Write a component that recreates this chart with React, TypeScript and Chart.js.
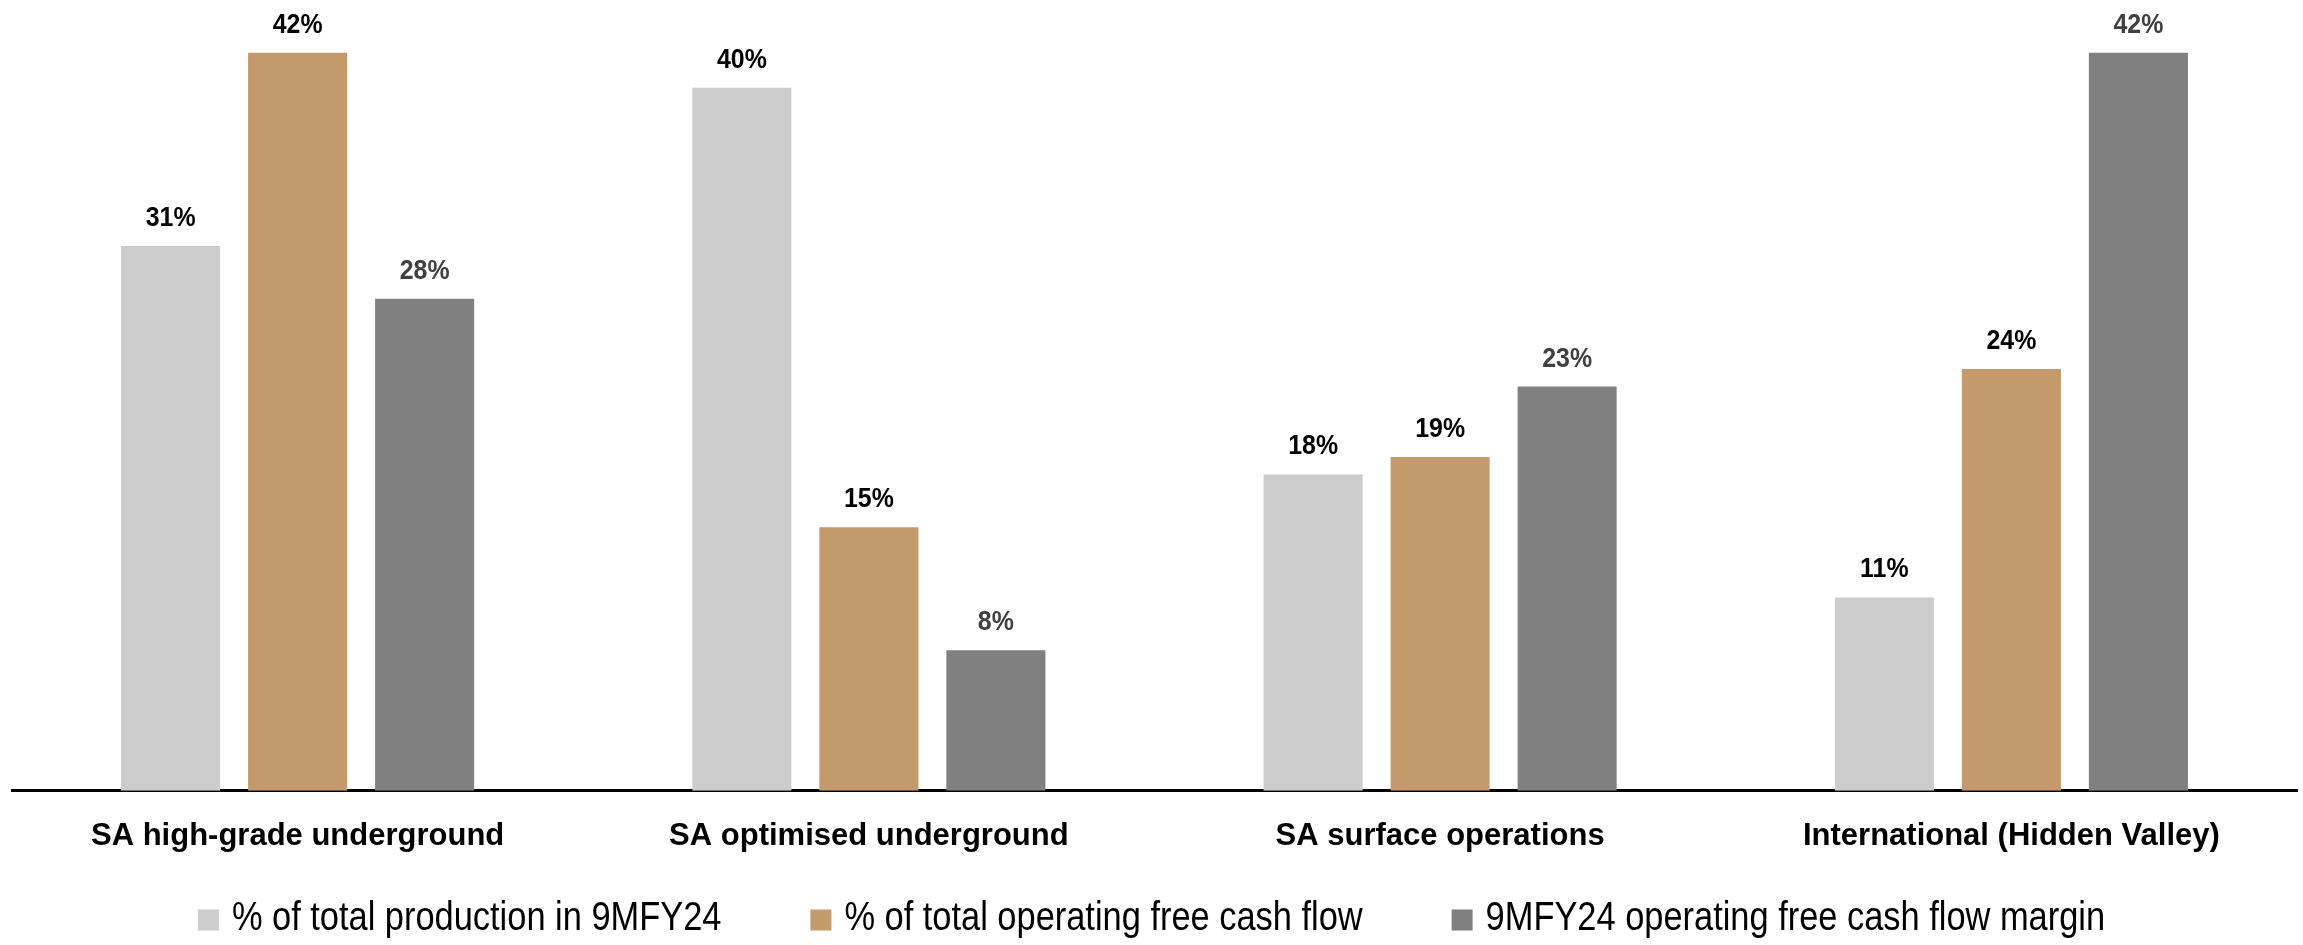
import React, { useEffect, useRef } from "react";
import { Chart, registerables } from "chart.js";

Chart.register(...registerables);

const categories = [
  "SA high-grade underground",
  "SA optimised underground",
  "SA surface operations",
  "International (Hidden Valley)",
];
const seriesNames = [
  "% of total production in 9MFY24",
  "% of total operating free cash flow",
  "9MFY24 operating free cash flow margin",
];
const productionShare = [31, 40, 18, 11];
const cashFlowShare = [42, 15, 19, 24];
const cashFlowMargin = [28, 8, 23, 42];
const seriesValues = [productionShare, cashFlowShare, cashFlowMargin];
const barColors = ["#CCCCCC", "#C4996C", "#808080"];
const labelColors = ["#000000", "#000000", "#404040"];

const FONT = '"Liberation Sans", Arial, sans-serif';

const valueLabels = {
  id: "valueLabels",
  afterDatasetsDraw(chart: any) {
    const ctx = chart.ctx;
    const squeeze = 0.89;
    chart.data.datasets.forEach((ds: any, i: number) => {
      const meta = chart.getDatasetMeta(i);
      meta.data.forEach((el: any, j: number) => {
        ctx.save();
        ctx.font = `bold 28px ${FONT}`;
        ctx.textAlign = "center";
        ctx.textBaseline = "alphabetic";
        ctx.fillStyle = labelColors[i];
        ctx.translate(el.x, el.y - 20);
        ctx.scale(squeeze, 1);
        ctx.fillText(`${ds.data[j]}%`, 0, 0);
        ctx.restore();
      });
    });
  },
};

const customLegend = {
  id: "customLegend",
  afterDraw(chart: any) {
    const ctx = chart.ctx;
    ctx.save();
    const fontSize = 40;
    const squeeze = 0.86;
    ctx.font = `${fontSize}px ${FONT}`;
    const box = 21;
    const boxGap = 13;
    const itemGap = 89;
    const items = chart.data.datasets.map((ds: any) => ({
      text: ds.label,
      color: ds.backgroundColor,
      tw: ctx.measureText(ds.label).width * squeeze,
    }));
    items.forEach((it: any) => (it.w = box + boxGap + it.tw));
    const total = items.reduce((s: number, it: any) => s + it.w, 0) + itemGap * (items.length - 1);
    let x = (chart.width - total) / 2;
    const cy = 919;
    items.forEach((it: any) => {
      ctx.fillStyle = it.color;
      ctx.fillRect(x, cy - box / 2 + 1, box, box);
      ctx.save();
      ctx.fillStyle = "#000000";
      ctx.textAlign = "left";
      ctx.textBaseline = "middle";
      ctx.translate(x + box + boxGap, cy);
      ctx.scale(squeeze, 1);
      ctx.fillText(it.text, 0, 0);
      ctx.restore();
      x += it.w + itemGap;
    });
    ctx.restore();
  },
};

export default function App() {
  const canvasRef = useRef<HTMLCanvasElement | null>(null);

  useEffect(() => {
    document.body.style.margin = "0";
    const canvas = canvasRef.current;
    if (!canvas) return;
    const chart = new Chart(canvas, {
      type: "bar",
      data: {
        labels: categories,
        datasets: seriesNames.map((name, i) => ({
          label: name,
          data: seriesValues[i],
          backgroundColor: barColors[i],
          borderWidth: 0,
          categoryPercentage: 0.667,
          barPercentage: 0.78,
        })),
      },
      options: {
        responsive: true,
        maintainAspectRatio: false,
        animation: false,
        layout: { padding: { left: 12, right: 6, top: 0, bottom: 63 } },
        plugins: {
          legend: { display: false },
          tooltip: { enabled: false },
          title: { display: false },
        },
        scales: {
          x: {
            grid: { display: false, drawTicks: false },
            border: { display: true, color: "#000000", width: 3 },
            ticks: {
              color: "#000000",
              padding: 27,
              font: { family: FONT, size: 31, weight: "bold" },
              maxRotation: 0,
              autoSkip: false,
            },
          },
          y: {
            display: false,
            min: 0,
            max: 45,
          },
        },
      },
      plugins: [valueLabels, customLegend],
    });
    return () => chart.destroy();
  }, []);

  return (
    <div style={{ width: "2303px", height: "945px", position: "relative" }}>
      <canvas ref={canvasRef} />
    </div>
  );
}
